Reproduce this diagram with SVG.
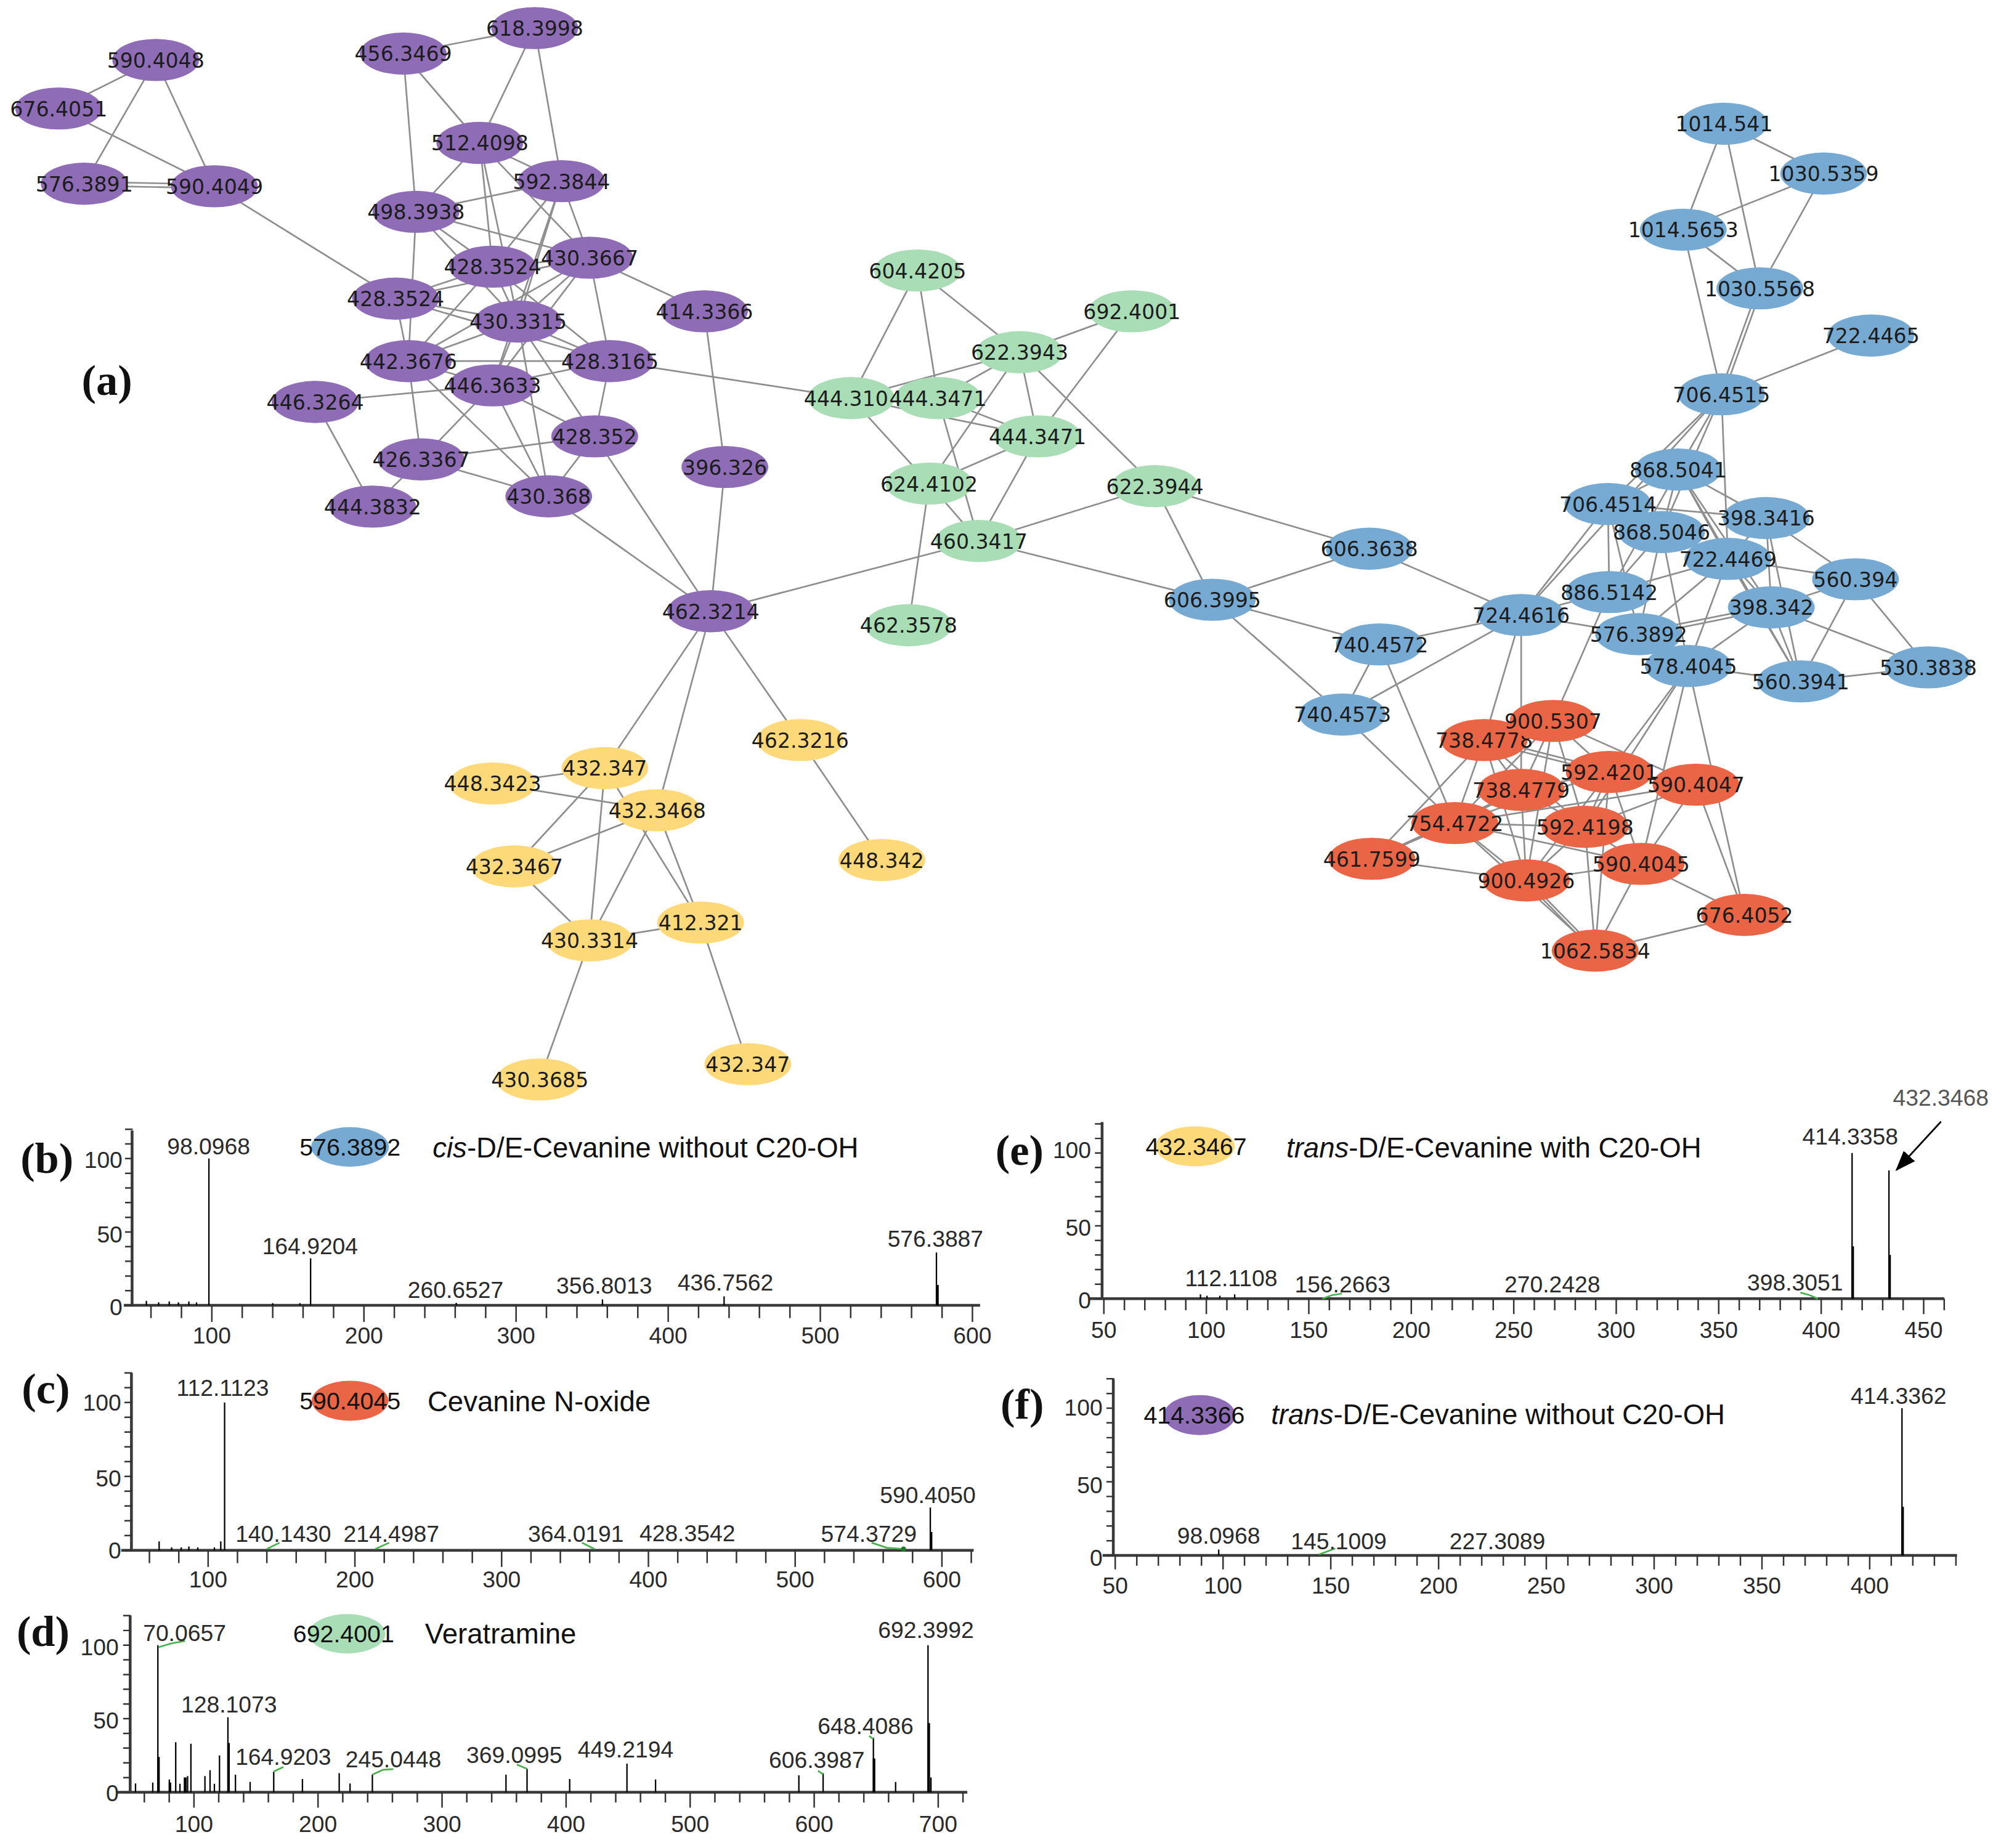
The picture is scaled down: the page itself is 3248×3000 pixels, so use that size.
<svg xmlns="http://www.w3.org/2000/svg" width="3248" height="3000" viewBox="0 0 3248 3000">
<style>
.e line{stroke:#8e8e8e;stroke-width:1.3}
.nd text{font-family:"DejaVu Sans",Verdana,sans-serif;font-size:16px;fill:#1c1c1c;text-anchor:middle}
.p{fill:#8e6cb6}.g{fill:#a8ddb5}.b{fill:#76aad2}.r{fill:#e96546}.y{fill:#fed97a}
.ax{stroke:#3a3a3a;stroke-width:2.2;fill:none}
.tk{stroke:#333;stroke-width:1.2;fill:none}
.pk{stroke:#000;stroke-width:1.1;fill:none}
.pkt{stroke:#000;stroke-width:2;fill:none}
.gr{stroke:#45b04a;stroke-width:1.3;fill:none}
.num{font-family:"Liberation Sans",Arial,sans-serif;font-size:18px;fill:#2a2a2a;text-anchor:middle}
.yl{font-family:"Liberation Sans",Arial,sans-serif;font-size:18px;fill:#2a2a2a;text-anchor:end}
.lg{font-family:"Liberation Sans",Arial,sans-serif;font-size:19px;fill:#111;text-anchor:middle}
.ttl{font-family:"Liberation Sans",Arial,sans-serif;font-size:22px;fill:#111}
.pl{font-family:"Liberation Serif","Times New Roman",serif;font-weight:bold;font-size:34px;fill:#111}
</style>
<defs>
<marker id="ah" viewBox="0 0 16 12" refX="15" refY="6" markerWidth="16" markerHeight="12" markerUnits="userSpaceOnUse" orient="auto"><path d="M0,0 L16,6 L0,12 z" fill="#000"/></marker>
</defs>
<rect width="3248" height="3000" fill="#fff"/>
<g transform="scale(2.071429)">
<g id="edges" class="e">
<line x1="122" y1="47" x2="46" y2="85"/>
<line x1="122" y1="47" x2="66" y2="144"/>
<line x1="122" y1="47" x2="168" y2="146"/>
<line x1="46" y1="85" x2="168" y2="146"/>
<line x1="66" y1="142.5" x2="168" y2="144.5"/>
<line x1="66" y1="145.5" x2="168" y2="147.5"/>
<line x1="168" y1="146" x2="310" y2="234"/>
<line x1="316" y1="42" x2="419" y2="22"/>
<line x1="316" y1="42" x2="376" y2="112"/>
<line x1="316" y1="42" x2="326" y2="166"/>
<line x1="419" y1="22" x2="376" y2="112"/>
<line x1="419" y1="22" x2="440" y2="142"/>
<line x1="376" y1="112" x2="326" y2="166"/>
<line x1="376" y1="112" x2="440" y2="142"/>
<line x1="376" y1="112" x2="462" y2="202"/>
<line x1="376" y1="112" x2="386" y2="209"/>
<line x1="376" y1="112" x2="406" y2="252"/>
<line x1="440" y1="142" x2="326" y2="166"/>
<line x1="440" y1="142" x2="386" y2="209"/>
<line x1="440" y1="142" x2="406" y2="252"/>
<line x1="440" y1="142" x2="462" y2="202"/>
<line x1="440" y1="142" x2="386" y2="302"/>
<line x1="326" y1="166" x2="386" y2="209"/>
<line x1="326" y1="166" x2="462" y2="202"/>
<line x1="326" y1="166" x2="406" y2="252"/>
<line x1="326" y1="166" x2="320" y2="283"/>
<line x1="386" y1="209" x2="462" y2="202"/>
<line x1="386" y1="209" x2="310" y2="234"/>
<line x1="386" y1="209" x2="320" y2="283"/>
<line x1="386" y1="209" x2="406" y2="252"/>
<line x1="386" y1="209" x2="478" y2="283"/>
<line x1="462" y1="202" x2="552" y2="244"/>
<line x1="462" y1="202" x2="310" y2="234"/>
<line x1="462" y1="202" x2="406" y2="252"/>
<line x1="462" y1="202" x2="320" y2="283"/>
<line x1="462" y1="202" x2="478" y2="283"/>
<line x1="462" y1="202" x2="386" y2="302"/>
<line x1="310" y1="234" x2="406" y2="252"/>
<line x1="310" y1="234" x2="320" y2="283"/>
<line x1="310" y1="234" x2="478" y2="283"/>
<line x1="406" y1="252" x2="320" y2="283"/>
<line x1="406" y1="252" x2="478" y2="283"/>
<line x1="406" y1="252" x2="386" y2="302"/>
<line x1="406" y1="252" x2="430" y2="389"/>
<line x1="406" y1="252" x2="466" y2="342"/>
<line x1="320" y1="283" x2="478" y2="283"/>
<line x1="320" y1="283" x2="386" y2="302"/>
<line x1="320" y1="283" x2="330" y2="360"/>
<line x1="320" y1="283" x2="430" y2="389"/>
<line x1="478" y1="283" x2="386" y2="302"/>
<line x1="478" y1="283" x2="466" y2="342"/>
<line x1="478" y1="283" x2="667" y2="312"/>
<line x1="386" y1="302" x2="247" y2="315"/>
<line x1="386" y1="302" x2="330" y2="360"/>
<line x1="386" y1="302" x2="430" y2="389"/>
<line x1="386" y1="302" x2="466" y2="342"/>
<line x1="247" y1="315" x2="292" y2="397"/>
<line x1="330" y1="360" x2="292" y2="397"/>
<line x1="330" y1="360" x2="466" y2="342"/>
<line x1="330" y1="360" x2="430" y2="389"/>
<line x1="466" y1="342" x2="430" y2="389"/>
<line x1="466" y1="342" x2="557" y2="479"/>
<line x1="430" y1="389" x2="557" y2="479"/>
<line x1="552" y1="244" x2="568" y2="366"/>
<line x1="568" y1="366" x2="557" y2="479"/>
<line x1="557" y1="479" x2="767" y2="424"/>
<line x1="557" y1="479" x2="474" y2="602"/>
<line x1="557" y1="479" x2="515" y2="635"/>
<line x1="557" y1="479" x2="627" y2="580"/>
<line x1="474" y1="602" x2="386" y2="614"/>
<line x1="386" y1="614" x2="515" y2="635"/>
<line x1="474" y1="602" x2="403" y2="679"/>
<line x1="474" y1="602" x2="462" y2="737"/>
<line x1="474" y1="602" x2="549" y2="723"/>
<line x1="515" y1="635" x2="403" y2="679"/>
<line x1="515" y1="635" x2="462" y2="737"/>
<line x1="515" y1="635" x2="549" y2="723"/>
<line x1="403" y1="679" x2="462" y2="737"/>
<line x1="462" y1="737" x2="549" y2="723"/>
<line x1="462" y1="737" x2="423" y2="846"/>
<line x1="549" y1="723" x2="586" y2="834"/>
<line x1="627" y1="580" x2="691" y2="674"/>
<line x1="719" y1="212" x2="667" y2="312"/>
<line x1="719" y1="212" x2="735" y2="312"/>
<line x1="719" y1="212" x2="799" y2="276"/>
<line x1="887" y1="244" x2="799" y2="276"/>
<line x1="887" y1="244" x2="813" y2="342"/>
<line x1="799" y1="276" x2="667" y2="312"/>
<line x1="799" y1="276" x2="735" y2="312"/>
<line x1="799" y1="276" x2="728" y2="379"/>
<line x1="799" y1="276" x2="813" y2="342"/>
<line x1="799" y1="276" x2="905" y2="381"/>
<line x1="667" y1="312" x2="728" y2="379"/>
<line x1="667" y1="312" x2="813" y2="342"/>
<line x1="735" y1="312" x2="813" y2="342"/>
<line x1="735" y1="312" x2="767" y2="424"/>
<line x1="813" y1="342" x2="728" y2="379"/>
<line x1="813" y1="342" x2="767" y2="424"/>
<line x1="728" y1="379" x2="767" y2="424"/>
<line x1="728" y1="379" x2="712" y2="490"/>
<line x1="905" y1="381" x2="767" y2="424"/>
<line x1="767" y1="424" x2="950" y2="470"/>
<line x1="905" y1="381" x2="950" y2="470"/>
<line x1="905" y1="381" x2="1073" y2="430"/>
<line x1="1351" y1="97" x2="1429" y2="136"/>
<line x1="1351" y1="97" x2="1319" y2="180"/>
<line x1="1351" y1="97" x2="1379" y2="226"/>
<line x1="1429" y1="136" x2="1319" y2="180"/>
<line x1="1429" y1="136" x2="1379" y2="226"/>
<line x1="1319" y1="180" x2="1379" y2="226"/>
<line x1="1319" y1="180" x2="1349" y2="309"/>
<line x1="1377.5" y1="226" x2="1347.5" y2="309"/>
<line x1="1380.5" y1="226" x2="1350.5" y2="309"/>
<line x1="1466" y1="263" x2="1349" y2="309"/>
<line x1="1349" y1="309" x2="1315" y2="368"/>
<line x1="1349" y1="309" x2="1260" y2="395"/>
<line x1="1349" y1="309" x2="1302" y2="417"/>
<line x1="1349" y1="309" x2="1354" y2="438"/>
<line x1="1349" y1="309" x2="1192" y2="482"/>
<line x1="950" y1="470" x2="1073" y2="430"/>
<line x1="950" y1="470" x2="1081" y2="505"/>
<line x1="950" y1="470" x2="1052" y2="560"/>
<line x1="1073" y1="430" x2="1192" y2="482"/>
<line x1="1081" y1="505" x2="1192" y2="482"/>
<line x1="1081" y1="505" x2="1052" y2="560"/>
<line x1="1081" y1="505" x2="1140" y2="645"/>
<line x1="1052" y1="560" x2="1192" y2="482"/>
<line x1="1052" y1="560" x2="1140" y2="645"/>
<line x1="1192" y1="482" x2="1260" y2="395"/>
<line x1="1192" y1="482" x2="1261" y2="464"/>
<line x1="1192" y1="482" x2="1284" y2="497"/>
<line x1="1192" y1="482" x2="1163" y2="580"/>
<line x1="1192" y1="482" x2="1192" y2="619"/>
<line x1="1260" y1="395" x2="1315" y2="368"/>
<line x1="1260" y1="395" x2="1384" y2="406"/>
<line x1="1260" y1="395" x2="1302" y2="417"/>
<line x1="1260" y1="395" x2="1261" y2="464"/>
<line x1="1260" y1="395" x2="1284" y2="497"/>
<line x1="1315" y1="368" x2="1384" y2="406"/>
<line x1="1315" y1="368" x2="1302" y2="417"/>
<line x1="1315" y1="368" x2="1354" y2="438"/>
<line x1="1315" y1="368" x2="1261" y2="464"/>
<line x1="1315" y1="368" x2="1388" y2="476"/>
<line x1="1315" y1="368" x2="1411" y2="534"/>
<line x1="1384" y1="406" x2="1454" y2="454"/>
<line x1="1384" y1="406" x2="1354" y2="438"/>
<line x1="1384" y1="406" x2="1388" y2="476"/>
<line x1="1384" y1="406" x2="1411" y2="534"/>
<line x1="1302" y1="417" x2="1354" y2="438"/>
<line x1="1302" y1="417" x2="1261" y2="464"/>
<line x1="1302" y1="417" x2="1284" y2="497"/>
<line x1="1302" y1="417" x2="1323" y2="522"/>
<line x1="1354" y1="438" x2="1454" y2="454"/>
<line x1="1354" y1="438" x2="1388" y2="476"/>
<line x1="1354" y1="438" x2="1261" y2="464"/>
<line x1="1354" y1="438" x2="1284" y2="497"/>
<line x1="1354" y1="438" x2="1323" y2="522"/>
<line x1="1354" y1="438" x2="1411" y2="534"/>
<line x1="1454" y1="454" x2="1388" y2="476"/>
<line x1="1454" y1="454" x2="1411" y2="534"/>
<line x1="1454" y1="454" x2="1511" y2="523"/>
<line x1="1388" y1="474.5" x2="1284" y2="495.5"/>
<line x1="1388" y1="477.5" x2="1284" y2="498.5"/>
<line x1="1388" y1="476" x2="1323" y2="522"/>
<line x1="1388" y1="476" x2="1511" y2="523"/>
<line x1="1388" y1="476" x2="1411" y2="534"/>
<line x1="1284" y1="497" x2="1323" y2="522"/>
<line x1="1261" y1="464" x2="1217" y2="565"/>
<line x1="1323" y1="522" x2="1411" y2="534"/>
<line x1="1411" y1="534" x2="1511" y2="523"/>
<line x1="1323" y1="522" x2="1261" y2="605"/>
<line x1="1323" y1="522" x2="1242" y2="648"/>
<line x1="1323" y1="522" x2="1286" y2="677"/>
<line x1="1323" y1="522" x2="1367" y2="717"/>
<line x1="1217" y1="565" x2="1163" y2="580"/>
<line x1="1217" y1="565" x2="1261" y2="605"/>
<line x1="1217" y1="565" x2="1329" y2="615"/>
<line x1="1217" y1="565" x2="1192" y2="619"/>
<line x1="1217" y1="565" x2="1140" y2="645"/>
<line x1="1217" y1="565" x2="1242" y2="648"/>
<line x1="1217" y1="565" x2="1196" y2="690"/>
<line x1="1163" y1="578.5" x2="1261" y2="603.5"/>
<line x1="1163" y1="581.5" x2="1261" y2="606.5"/>
<line x1="1163" y1="580" x2="1192" y2="619"/>
<line x1="1163" y1="580" x2="1140" y2="645"/>
<line x1="1163" y1="580" x2="1075" y2="673"/>
<line x1="1163" y1="580" x2="1196" y2="690"/>
<line x1="1163" y1="580" x2="1242" y2="648"/>
<line x1="1261" y1="605" x2="1192" y2="619"/>
<line x1="1261" y1="605" x2="1329" y2="615"/>
<line x1="1261" y1="605" x2="1242" y2="648"/>
<line x1="1261" y1="605" x2="1140" y2="645"/>
<line x1="1261" y1="605" x2="1196" y2="690"/>
<line x1="1261" y1="605" x2="1286" y2="677"/>
<line x1="1261" y1="605" x2="1250" y2="745"/>
<line x1="1329" y1="615" x2="1242" y2="648"/>
<line x1="1329" y1="615" x2="1286" y2="677"/>
<line x1="1329" y1="615" x2="1367" y2="717"/>
<line x1="1329" y1="615" x2="1140" y2="645"/>
<line x1="1192" y1="619" x2="1140" y2="645"/>
<line x1="1192" y1="619" x2="1242" y2="648"/>
<line x1="1192" y1="619" x2="1196" y2="690"/>
<line x1="1192" y1="619" x2="1075" y2="673"/>
<line x1="1140" y1="645" x2="1242" y2="648"/>
<line x1="1140" y1="645" x2="1075" y2="673"/>
<line x1="1140" y1="645" x2="1196" y2="690"/>
<line x1="1140" y1="645" x2="1286" y2="677"/>
<line x1="1140" y1="645" x2="1250" y2="745"/>
<line x1="1242" y1="648" x2="1196" y2="690"/>
<line x1="1242" y1="648" x2="1286" y2="677"/>
<line x1="1242" y1="648" x2="1250" y2="745"/>
<line x1="1075" y1="673" x2="1196" y2="690"/>
<line x1="1196" y1="690" x2="1286" y2="677"/>
<line x1="1194.5" y1="690" x2="1248.5" y2="745"/>
<line x1="1197.5" y1="690" x2="1251.5" y2="745"/>
<line x1="1286" y1="677" x2="1367" y2="717"/>
<line x1="1367" y1="717" x2="1250" y2="745"/>
<line x1="1286" y1="677" x2="1250" y2="745"/>
</g>
<g id="nodes">
<g id="n590_4048" class="nd"><ellipse class="p" cx="122" cy="47" rx="34" ry="16.5"/><text x="122" y="53">590.4048</text></g>
<g id="n676_4051" class="nd"><ellipse class="p" cx="46" cy="85" rx="34" ry="16.5"/><text x="46" y="91">676.4051</text></g>
<g id="n576_3891" class="nd"><ellipse class="p" cx="66" cy="144" rx="34" ry="16.5"/><text x="66" y="150">576.3891</text></g>
<g id="n590_4049" class="nd"><ellipse class="p" cx="168" cy="146" rx="34" ry="16.5"/><text x="168" y="152">590.4049</text></g>
<g id="n456_3469" class="nd"><ellipse class="p" cx="316" cy="42" rx="34" ry="16.5"/><text x="316" y="48">456.3469</text></g>
<g id="n618_3998" class="nd"><ellipse class="p" cx="419" cy="22" rx="34" ry="16.5"/><text x="419" y="28">618.3998</text></g>
<g id="n512_4098" class="nd"><ellipse class="p" cx="376" cy="112" rx="34" ry="16.5"/><text x="376" y="118">512.4098</text></g>
<g id="n592_3844" class="nd"><ellipse class="p" cx="440" cy="142" rx="34" ry="16.5"/><text x="440" y="148">592.3844</text></g>
<g id="n498_3938" class="nd"><ellipse class="p" cx="326" cy="166" rx="34" ry="16.5"/><text x="326" y="172">498.3938</text></g>
<g id="n428_3524a" class="nd"><ellipse class="p" cx="386" cy="209" rx="34" ry="16.5"/><text x="386" y="215">428.3524</text></g>
<g id="n430_3667" class="nd"><ellipse class="p" cx="462" cy="202" rx="34" ry="16.5"/><text x="462" y="208">430.3667</text></g>
<g id="n428_3524b" class="nd"><ellipse class="p" cx="310" cy="234" rx="34" ry="16.5"/><text x="310" y="240">428.3524</text></g>
<g id="n414_3366" class="nd"><ellipse class="p" cx="552" cy="244" rx="34" ry="16.5"/><text x="552" y="250">414.3366</text></g>
<g id="n430_3315" class="nd"><ellipse class="p" cx="406" cy="252" rx="34" ry="16.5"/><text x="406" y="258">430.3315</text></g>
<g id="n442_3676" class="nd"><ellipse class="p" cx="320" cy="283" rx="34" ry="16.5"/><text x="320" y="289">442.3676</text></g>
<g id="n428_3165" class="nd"><ellipse class="p" cx="478" cy="283" rx="34" ry="16.5"/><text x="478" y="289">428.3165</text></g>
<g id="n446_3633" class="nd"><ellipse class="p" cx="386" cy="302" rx="34" ry="16.5"/><text x="386" y="308">446.3633</text></g>
<g id="n446_3264" class="nd"><ellipse class="p" cx="247" cy="315" rx="34" ry="16.5"/><text x="247" y="321">446.3264</text></g>
<g id="n428_352" class="nd"><ellipse class="p" cx="466" cy="342" rx="34" ry="16.5"/><text x="466" y="348">428.352</text></g>
<g id="n426_3367" class="nd"><ellipse class="p" cx="330" cy="360" rx="34" ry="16.5"/><text x="330" y="366">426.3367</text></g>
<g id="n396_326" class="nd"><ellipse class="p" cx="568" cy="366" rx="34" ry="16.5"/><text x="568" y="372">396.326</text></g>
<g id="n444_3832" class="nd"><ellipse class="p" cx="292" cy="397" rx="34" ry="16.5"/><text x="292" y="403">444.3832</text></g>
<g id="n430_368" class="nd"><ellipse class="p" cx="430" cy="389" rx="34" ry="16.5"/><text x="430" y="395">430.368</text></g>
<g id="n462_3214" class="nd"><ellipse class="p" cx="557" cy="479" rx="34" ry="16.5"/><text x="557" y="485">462.3214</text></g>
<g id="n604_4205" class="nd"><ellipse class="g" cx="719" cy="212" rx="34" ry="16.5"/><text x="719" y="218">604.4205</text></g>
<g id="n692_4001" class="nd"><ellipse class="g" cx="887" cy="244" rx="34" ry="16.5"/><text x="887" y="250">692.4001</text></g>
<g id="n622_3943" class="nd"><ellipse class="g" cx="799" cy="276" rx="34" ry="16.5"/><text x="799" y="282">622.3943</text></g>
<g id="n444_310" class="nd"><ellipse class="g" cx="667" cy="312" rx="34" ry="16.5"/><text x="663" y="318">444.310</text></g>
<g id="n444_3471a" class="nd"><ellipse class="g" cx="735" cy="312" rx="34" ry="16.5"/><text x="735" y="318">444.3471</text></g>
<g id="n444_3471b" class="nd"><ellipse class="g" cx="813" cy="342" rx="34" ry="16.5"/><text x="813" y="348">444.3471</text></g>
<g id="n624_4102" class="nd"><ellipse class="g" cx="728" cy="379" rx="34" ry="16.5"/><text x="728" y="385">624.4102</text></g>
<g id="n622_3944" class="nd"><ellipse class="g" cx="905" cy="381" rx="34" ry="16.5"/><text x="905" y="387">622.3944</text></g>
<g id="n460_3417" class="nd"><ellipse class="g" cx="767" cy="424" rx="34" ry="16.5"/><text x="767" y="430">460.3417</text></g>
<g id="n462_3578" class="nd"><ellipse class="g" cx="712" cy="490" rx="34" ry="16.5"/><text x="712" y="496">462.3578</text></g>
<g id="n1014_541" class="nd"><ellipse class="b" cx="1351" cy="97" rx="34" ry="16.5"/><text x="1351" y="103">1014.541</text></g>
<g id="n1030_5359" class="nd"><ellipse class="b" cx="1429" cy="136" rx="34" ry="16.5"/><text x="1429" y="142">1030.5359</text></g>
<g id="n1014_5653" class="nd"><ellipse class="b" cx="1319" cy="180" rx="34" ry="16.5"/><text x="1319" y="186">1014.5653</text></g>
<g id="n1030_5568" class="nd"><ellipse class="b" cx="1379" cy="226" rx="34" ry="16.5"/><text x="1379" y="232">1030.5568</text></g>
<g id="n722_4465" class="nd"><ellipse class="b" cx="1466" cy="263" rx="34" ry="16.5"/><text x="1466" y="269">722.4465</text></g>
<g id="n706_4515" class="nd"><ellipse class="b" cx="1349" cy="309" rx="34" ry="16.5"/><text x="1349" y="315">706.4515</text></g>
<g id="n606_3638" class="nd"><ellipse class="b" cx="1073" cy="430" rx="34" ry="16.5"/><text x="1073" y="436">606.3638</text></g>
<g id="n606_3995" class="nd"><ellipse class="b" cx="950" cy="470" rx="34" ry="16.5"/><text x="950" y="476">606.3995</text></g>
<g id="n740_4572" class="nd"><ellipse class="b" cx="1081" cy="505" rx="34" ry="16.5"/><text x="1081" y="511">740.4572</text></g>
<g id="n740_4573" class="nd"><ellipse class="b" cx="1052" cy="560" rx="34" ry="16.5"/><text x="1052" y="566">740.4573</text></g>
<g id="n724_4616" class="nd"><ellipse class="b" cx="1192" cy="482" rx="34" ry="16.5"/><text x="1192" y="488">724.4616</text></g>
<g id="n868_5041" class="nd"><ellipse class="b" cx="1315" cy="368" rx="34" ry="16.5"/><text x="1315" y="374">868.5041</text></g>
<g id="n706_4514" class="nd"><ellipse class="b" cx="1260" cy="395" rx="34" ry="16.5"/><text x="1260" y="401">706.4514</text></g>
<g id="n398_3416" class="nd"><ellipse class="b" cx="1384" cy="406" rx="34" ry="16.5"/><text x="1384" y="412">398.3416</text></g>
<g id="n868_5046" class="nd"><ellipse class="b" cx="1302" cy="417" rx="34" ry="16.5"/><text x="1302" y="423">868.5046</text></g>
<g id="n722_4469" class="nd"><ellipse class="b" cx="1354" cy="438" rx="34" ry="16.5"/><text x="1354" y="444">722.4469</text></g>
<g id="n560_394" class="nd"><ellipse class="b" cx="1454" cy="454" rx="34" ry="16.5"/><text x="1454" y="460">560.394</text></g>
<g id="n886_5142" class="nd"><ellipse class="b" cx="1261" cy="464" rx="34" ry="16.5"/><text x="1261" y="470">886.5142</text></g>
<g id="n398_342" class="nd"><ellipse class="b" cx="1388" cy="476" rx="34" ry="16.5"/><text x="1388" y="482">398.342</text></g>
<g id="n576_3892" class="nd"><ellipse class="b" cx="1284" cy="497" rx="34" ry="16.5"/><text x="1284" y="503">576.3892</text></g>
<g id="n578_4045" class="nd"><ellipse class="b" cx="1323" cy="522" rx="34" ry="16.5"/><text x="1323" y="528">578.4045</text></g>
<g id="n560_3941" class="nd"><ellipse class="b" cx="1411" cy="534" rx="34" ry="16.5"/><text x="1411" y="540">560.3941</text></g>
<g id="n530_3838" class="nd"><ellipse class="b" cx="1511" cy="523" rx="34" ry="16.5"/><text x="1511" y="529">530.3838</text></g>
<g id="n738_4778" class="nd"><ellipse class="r" cx="1163" cy="580" rx="34" ry="16.5"/><text x="1163" y="586">738.4778</text></g>
<g id="n900_5307" class="nd"><ellipse class="r" cx="1217" cy="565" rx="34" ry="16.5"/><text x="1217" y="571">900.5307</text></g>
<g id="n590_4047" class="nd"><ellipse class="r" cx="1329" cy="615" rx="34" ry="16.5"/><text x="1329" y="621">590.4047</text></g>
<g id="n592_4201" class="nd"><ellipse class="r" cx="1261" cy="605" rx="34" ry="16.5"/><text x="1261" y="611">592.4201</text></g>
<g id="n738_4779" class="nd"><ellipse class="r" cx="1192" cy="619" rx="34" ry="16.5"/><text x="1192" y="625">738.4779</text></g>
<g id="n754_4722" class="nd"><ellipse class="r" cx="1140" cy="645" rx="34" ry="16.5"/><text x="1140" y="651">754.4722</text></g>
<g id="n592_4198" class="nd"><ellipse class="r" cx="1242" cy="648" rx="34" ry="16.5"/><text x="1242" y="654">592.4198</text></g>
<g id="n461_7599" class="nd"><ellipse class="r" cx="1075" cy="673" rx="34" ry="16.5"/><text x="1075" y="679">461.7599</text></g>
<g id="n900_4926" class="nd"><ellipse class="r" cx="1196" cy="690" rx="34" ry="16.5"/><text x="1196" y="696">900.4926</text></g>
<g id="n590_4045" class="nd"><ellipse class="r" cx="1286" cy="677" rx="34" ry="16.5"/><text x="1286" y="683">590.4045</text></g>
<g id="n676_4052" class="nd"><ellipse class="r" cx="1367" cy="717" rx="34" ry="16.5"/><text x="1367" y="723">676.4052</text></g>
<g id="n1062_5834" class="nd"><ellipse class="r" cx="1250" cy="745" rx="34" ry="16.5"/><text x="1250" y="751">1062.5834</text></g>
<g id="n462_3216" class="nd"><ellipse class="y" cx="627" cy="580" rx="34" ry="16.5"/><text x="627" y="586">462.3216</text></g>
<g id="n448_3423" class="nd"><ellipse class="y" cx="386" cy="614" rx="34" ry="16.5"/><text x="386" y="620">448.3423</text></g>
<g id="n432_347a" class="nd"><ellipse class="y" cx="474" cy="602" rx="34" ry="16.5"/><text x="474" y="608">432.347</text></g>
<g id="n432_3468" class="nd"><ellipse class="y" cx="515" cy="635" rx="34" ry="16.5"/><text x="515" y="641">432.3468</text></g>
<g id="n432_3467" class="nd"><ellipse class="y" cx="403" cy="679" rx="34" ry="16.5"/><text x="403" y="685">432.3467</text></g>
<g id="n448_342" class="nd"><ellipse class="y" cx="691" cy="674" rx="34" ry="16.5"/><text x="691" y="680">448.342</text></g>
<g id="n412_321" class="nd"><ellipse class="y" cx="549" cy="723" rx="34" ry="16.5"/><text x="549" y="729">412.321</text></g>
<g id="n430_3314" class="nd"><ellipse class="y" cx="462" cy="737" rx="34" ry="16.5"/><text x="462" y="743">430.3314</text></g>
<g id="n430_3685" class="nd"><ellipse class="y" cx="423" cy="846" rx="34" ry="16.5"/><text x="423" y="852">430.3685</text></g>
<g id="n432_347b" class="nd"><ellipse class="y" cx="586" cy="834" rx="34" ry="16.5"/><text x="586" y="840">432.347</text></g>
</g>
<text class="pl" x="64" y="309.5">(a)</text>

<g id="panel-b">
<text class="pl" x="16" y="919">(b)</text>
<path class="ax" d="M103.5 886V1023M97 1023H768"/>
<path class="tk" d="M98 1023h6M98 1011.5h6M98 1000h6M98 988.5h6M98 977h6M98 965.5h6M98 954h6M98 942.5h6M98 931h6M98 919.5h6M98 908h6M98 896.5h6M98 885h6"/>
<path class="tk" d="M118.3 1023v10M142.2 1023v10M166 1023v13M189.8 1023v10M213.7 1023v10M237.5 1023v10M261.4 1023v10M285.2 1023v13M309 1023v10M332.9 1023v10M356.7 1023v10M380.6 1023v10M404.4 1023v13M428.2 1023v10M452.1 1023v10M475.9 1023v10M499.8 1023v10M523.6 1023v13M547.4 1023v10M571.3 1023v10M595.1 1023v10M619 1023v10M642.8 1023v13M666.6 1023v10M690.5 1023v10M714.3 1023v10M738.2 1023v10M762 1023v13"/>
<text class="yl" x="96" y="915.5">100</text><text class="yl" x="96" y="973.5">50</text><text class="yl" x="96" y="1030.5">0</text>
<text class="num" x="166" y="1053">100</text><text class="num" x="285.2" y="1053">200</text><text class="num" x="404.4" y="1053">300</text><text class="num" x="523.6" y="1053">400</text><text class="num" x="642.8" y="1053">500</text><text class="num" x="762" y="1053">600</text>
<path class="pk" d="M114.7 1023V1019.5M124.3 1023V1020.7M132.6 1023V1020M139.8 1023V1020.7M148 1023V1020M154 1023V1020.7M163.7 1023V908M213.7 1023V1021.3M235 1023V1021.3M243.4 1023V986.2M357.5 1023V1021M472.1 1023V1018.4M567.4 1023V1016M733.8 1023V981.6"/>
<path class="pkt" d="M734.6 1023V1007"/>
<text class="num" x="163.5" y="904.5">98.0968</text>
<text class="num" x="243" y="983">164.9204</text>
<text class="num" x="357" y="1017">260.6527</text>
<text class="num" x="473.5" y="1014">356.8013</text>
<text class="num" x="568.5" y="1011.5">436.7562</text>
<text class="num" x="733" y="977">576.3887</text>
<ellipse class="b" cx="274.3" cy="898.8" rx="30.4" ry="15.5"/>
<text class="lg" x="274.3" y="905.5">576.3892</text>
<text class="ttl" x="339" y="907"><tspan font-style="italic">cis</tspan>-D/E-Cevanine without C20-OH</text>
</g>

<g id="panel-c">
<text class="pl" x="17" y="1099.5">(c)</text>
<path class="ax" d="M103 1076V1215M95 1215H763"/>
<path class="tk" d="M97.5 1215h6M97.5 1203.4h6M97.5 1191.8h6M97.5 1180.2h6M97.5 1168.6h6M97.5 1157.1h6M97.5 1145.5h6M97.5 1133.9h6M97.5 1122.3h6M97.5 1110.7h6M97.5 1099.1h6M97.5 1087.5h6M97.5 1075.9h6"/>
<path class="tk" d="M117.1 1215v10M140.1 1215v10M163.1 1215v13M186.1 1215v10M209.1 1215v10M232.1 1215v10M255.1 1215v10M278.1 1215v13M301.1 1215v10M324.1 1215v10M347.1 1215v10M370.1 1215v10M393.1 1215v13M416.1 1215v10M439.1 1215v10M462.1 1215v10M485.1 1215v10M508.1 1215v13M531.1 1215v10M554.1 1215v10M577.1 1215v10M600.1 1215v10M623.1 1215v13M646.1 1215v10M669.1 1215v10M692.1 1215v10M715.1 1215v10M738.1 1215v13M761.1 1215v10"/>
<text class="yl" x="95" y="1105.5">100</text><text class="yl" x="95" y="1165">50</text><text class="yl" x="95" y="1221.5">0</text>
<text class="num" x="163.1" y="1244">100</text><text class="num" x="278.1" y="1244">200</text><text class="num" x="393.1" y="1244">300</text><text class="num" x="508.1" y="1244">400</text><text class="num" x="623.1" y="1244">500</text><text class="num" x="738.1" y="1244">600</text>
<path class="pk" d="M124.7 1215V1208M134.5 1215V1212.7M142 1215V1212.7M148 1215V1212M155 1215V1212.7M168 1215V1212.7M173 1215V1208M176 1215V1099.1M729 1215V1181.4"/>
<path class="pkt" d="M729.6 1215V1200.6"/>
<path class="gr" d="M209 1214L219 1209M294 1214L305 1209M456 1209L466 1214M683 1209L695 1213L708 1214"/>
<circle cx="708" cy="1214" r="2" fill="#1f7a2a"/>
<text class="num" x="174.5" y="1094">112.1123</text>
<text class="num" x="222" y="1208.5">140.1430</text>
<text class="num" x="306.7" y="1208.5">214.4987</text>
<text class="num" x="451.3" y="1208.5">364.0191</text>
<text class="num" x="538.6" y="1208">428.3542</text>
<text class="num" x="680.8" y="1208.5">574.3729</text>
<text class="num" x="727" y="1178">590.4050</text>
<ellipse class="r" cx="274.3" cy="1097.8" rx="30" ry="15.7"/>
<text class="lg" x="274.3" y="1104.5">590.4045</text>
<text class="ttl" x="335" y="1106">Cevanine N-oxide</text>
</g>

<g id="panel-d">
<text class="pl" x="13" y="1290">(d)</text>
<path class="ax" d="M102 1266V1404.6M92 1404.6H758"/>
<path class="tk" d="M96.5 1404.6h6M96.5 1393.1h6M96.5 1381.5h6M96.5 1370h6M96.5 1358.5h6M96.5 1346.9h6M96.5 1335.4h6M96.5 1323.9h6M96.5 1312.4h6M96.5 1300.8h6M96.5 1289.3h6M96.5 1277.8h6M96.5 1266.2h6"/>
<path class="tk" d="M113.1 1404.6v8M132.6 1404.6v8M152 1404.6v12M171.4 1404.6v8M190.9 1404.6v8M210.3 1404.6v8M229.8 1404.6v8M249.2 1404.6v12M268.6 1404.6v8M288.1 1404.6v8M307.5 1404.6v8M327 1404.6v8M346.4 1404.6v12M365.8 1404.6v8M385.3 1404.6v8M404.7 1404.6v8M424.2 1404.6v8M443.6 1404.6v12M463 1404.6v8M482.5 1404.6v8M501.9 1404.6v8M521.4 1404.6v8M540.8 1404.6v12M560.2 1404.6v8M579.7 1404.6v8M599.1 1404.6v8M618.6 1404.6v8M638 1404.6v12M657.4 1404.6v8M676.9 1404.6v8M696.3 1404.6v8M715.8 1404.6v8M735.2 1404.6v12M754.6 1404.6v8"/>
<text class="yl" x="93" y="1297">100</text><text class="yl" x="93" y="1354.5">50</text><text class="yl" x="93" y="1411.5">0</text>
<text class="num" x="152" y="1435.5">100</text><text class="num" x="249.2" y="1435.5">200</text><text class="num" x="346.4" y="1435.5">300</text><text class="num" x="443.6" y="1435.5">400</text><text class="num" x="540.8" y="1435.5">500</text><text class="num" x="638" y="1435.5">600</text><text class="num" x="735.2" y="1435.5">700</text>
<path class="pk" d="M106.2 1404.6V1397.7M119.7 1404.6V1397M123.7 1404.6V1289.3M132.7 1404.6V1394.6M137.7 1404.6V1365.4M141 1404.6V1398M144.6 1404.6V1393.1M147 1404.6V1391.9M149.6 1404.6V1366.6M160.6 1404.6V1391.9M164.6 1404.6V1387.3M168 1404.6V1398M172 1404.6V1375.8M178.6 1404.6V1345.8M184.5 1404.6V1390.8M196 1404.6V1396.5M214.5 1404.6V1388.5M237 1404.6V1394.2M265.8 1404.6V1389.6M274.3 1404.6V1397.7M291.8 1404.6V1390.8M396.5 1404.6V1390.8M413 1404.6V1386.2M446.4 1404.6V1394.2M491.3 1404.6V1382.1M513.7 1404.6V1394.6M626 1404.6V1391.3M645 1404.6V1389.6M684.4 1404.6V1361.9M701.8 1404.6V1396.5M727.2 1404.6V1289.3M729.5 1404.6V1393"/>
<path class="pkt" d="M124.2 1404.6V1376.9M133.2 1404.6V1397M145.2 1404.6V1393M179.1 1404.6V1366M684.9 1404.6V1378.1M727.8 1404.6V1350.4"/>
<path class="gr" d="M124 1291L134 1288L145 1286M214.5 1388.3L222 1384.8M291.8 1390.8L300 1387L308.2 1386.4M405 1382.9L413 1386.2M641 1387.8L645 1390.5M681 1360.4L684.4 1362.9"/>
<text class="num" x="144.6" y="1286">70.0657</text>
<text class="num" x="179.5" y="1342">128.1073</text>
<text class="num" x="222" y="1383">164.9203</text>
<text class="num" x="308.2" y="1385">245.0448</text>
<text class="num" x="403" y="1381.5">369.0995</text>
<text class="num" x="490.2" y="1377.5">449.2194</text>
<text class="num" x="640" y="1385.5">606.3987</text>
<text class="num" x="678.3" y="1359">648.4086</text>
<text class="num" x="725.6" y="1283.5">692.3992</text>
<ellipse class="g" cx="272" cy="1280.4" rx="30" ry="15.4"/>
<text class="lg" x="269.3" y="1287">692.4001</text>
<text class="ttl" x="333" y="1288">Veratramine</text>
</g>

<g id="panel-e">
<text class="pl" x="780" y="913">(e)</text>
<path class="ax" d="M863.6 879.4V1017.8M853.5 1017.8H1523.5"/>
<path class="tk" d="M858 1017.8h6M858 1006.4h6M858 995h6M858 983.5h6M858 972.1h6M858 960.7h6M858 949.3h6M858 937.9h6M858 926.4h6M858 915h6M858 903.6h6M858 892.2h6M858 880.8h6"/>
<path class="tk" d="M865 1017.8v12M881.1 1017.8v9M897.1 1017.8v9M913.2 1017.8v9M929.2 1017.8v9M945.3 1017.8v12M961.4 1017.8v9M977.4 1017.8v9M993.5 1017.8v9M1009.5 1017.8v9M1025.6 1017.8v12M1041.7 1017.8v9M1057.7 1017.8v9M1073.8 1017.8v9M1089.8 1017.8v9M1105.9 1017.8v12M1122 1017.8v9M1138 1017.8v9M1154.1 1017.8v9M1170.1 1017.8v9M1186.2 1017.8v12M1202.3 1017.8v9M1218.3 1017.8v9M1234.4 1017.8v9M1250.4 1017.8v9M1266.5 1017.8v12M1282.6 1017.8v9M1298.6 1017.8v9M1314.7 1017.8v9M1330.7 1017.8v9M1346.8 1017.8v12M1362.9 1017.8v9M1378.9 1017.8v9M1395 1017.8v9M1411 1017.8v9M1427.1 1017.8v12M1443.2 1017.8v9M1459.2 1017.8v9M1475.3 1017.8v9M1491.3 1017.8v9M1507.4 1017.8v12M1523.5 1017.8v9"/>
<text class="yl" x="855" y="907.5">100</text><text class="yl" x="855" y="968.5">50</text><text class="yl" x="855" y="1025.5">0</text>
<text class="num" x="865" y="1048.5">50</text><text class="num" x="945.3" y="1048.5">100</text><text class="num" x="1025.6" y="1048.5">150</text><text class="num" x="1105.9" y="1048.5">200</text><text class="num" x="1186.2" y="1048.5">250</text><text class="num" x="1266.5" y="1048.5">300</text><text class="num" x="1346.8" y="1048.5">350</text><text class="num" x="1427.1" y="1048.5">400</text><text class="num" x="1507.4" y="1048.5">450</text>
<path class="pk" d="M940.7 1017.8V1014.4M945.8 1017.8V1015.5M955.9 1017.8V1015.5M967.5 1017.8V1014.4M1451.3 1017.8V903.6M1480.2 1017.8V917.3"/>
<path class="pkt" d="M1451.8 1017.8V976.7M1480.7 1017.8V983.5"/>
<path class="gr" d="M1036.2 1017.8L1044 1015L1051.5 1013.8M1410.8 1013L1418 1015L1424.5 1017.8"/>
<line x1="1521" y1="879" x2="1486" y2="917" stroke="#000" stroke-width="1.3" marker-end="url(#ah)"/>
<text class="num" x="1520.8" y="866.5" fill="#555" style="fill:#555">432.3468</text>
<text class="num" x="1449.8" y="897">414.3358</text>
<text class="num" x="964.8" y="1008">112.1108</text>
<text class="num" x="1052" y="1013">156.2663</text>
<text class="num" x="1216.4" y="1013">270.2428</text>
<text class="num" x="1406.6" y="1011.5">398.3051</text>
<ellipse class="y" cx="936.5" cy="898.4" rx="31" ry="15.7"/>
<text class="lg" x="937.3" y="905">432.3467</text>
<text class="ttl" x="1008" y="907"><tspan font-style="italic">trans</tspan>-D/E-Cevanine with C20-OH</text>
</g>

<g id="panel-f">
<text class="pl" x="784" y="1112">(f)</text>
<path class="ax" d="M872.4 1080.6V1219M864 1219H1533.5"/>
<path class="tk" d="M867 1219h6M867 1207.5h6M867 1195.9h6M867 1184.4h6M867 1172.8h6M867 1161.3h6M867 1149.8h6M867 1138.2h6M867 1126.7h6M867 1115.1h6M867 1103.6h6M867 1092.1h6M867 1080.5h6"/>
<path class="tk" d="M873.9 1219v11M890.8 1219v8M907.7 1219v8M924.6 1219v8M941.5 1219v8M958.4 1219v11M975.2 1219v8M992.1 1219v8M1009 1219v8M1025.9 1219v8M1042.8 1219v11M1059.7 1219v8M1076.6 1219v8M1093.5 1219v8M1110.4 1219v8M1127.3 1219v11M1144.2 1219v8M1161.1 1219v8M1178 1219v8M1194.9 1219v8M1211.7 1219v11M1228.6 1219v8M1245.5 1219v8M1262.4 1219v8M1279.3 1219v8M1296.2 1219v11M1313.1 1219v8M1330 1219v8M1346.9 1219v8M1363.8 1219v8M1380.7 1219v11M1397.6 1219v8M1414.5 1219v8M1431.4 1219v8M1448.3 1219v8M1465.1 1219v11M1482 1219v8M1498.9 1219v8M1515.8 1219v8M1532.7 1219v8"/>
<text class="yl" x="864" y="1109.5">100</text><text class="yl" x="864" y="1170">50</text><text class="yl" x="864" y="1227">0</text>
<text class="num" x="873.9" y="1249">50</text><text class="num" x="958.4" y="1249">100</text><text class="num" x="1042.8" y="1249">150</text><text class="num" x="1127.3" y="1249">200</text><text class="num" x="1211.7" y="1249">250</text><text class="num" x="1296.2" y="1249">300</text><text class="num" x="1380.7" y="1249">350</text><text class="num" x="1465.1" y="1249">400</text>
<path class="pk" d="M955 1219V1214.4M1490.4 1219V1103.6"/>
<path class="pkt" d="M1490.9 1219V1180.9"/>
<path class="gr" d="M1033.6 1218.2L1046.3 1213.5"/>
<text class="num" x="1487.7" y="1100">414.3362</text>
<text class="num" x="955" y="1210">98.0968</text>
<text class="num" x="1049" y="1214">145.1009</text>
<text class="num" x="1173.3" y="1214">227.3089</text>
<ellipse class="p" cx="940" cy="1109" rx="28" ry="15.7"/>
<text class="lg" x="935.8" y="1115.5">414.3366</text>
<text class="ttl" x="996" y="1116"><tspan font-style="italic">trans</tspan>-D/E-Cevanine without C20-OH</text>
</g>
</g>
</svg>
